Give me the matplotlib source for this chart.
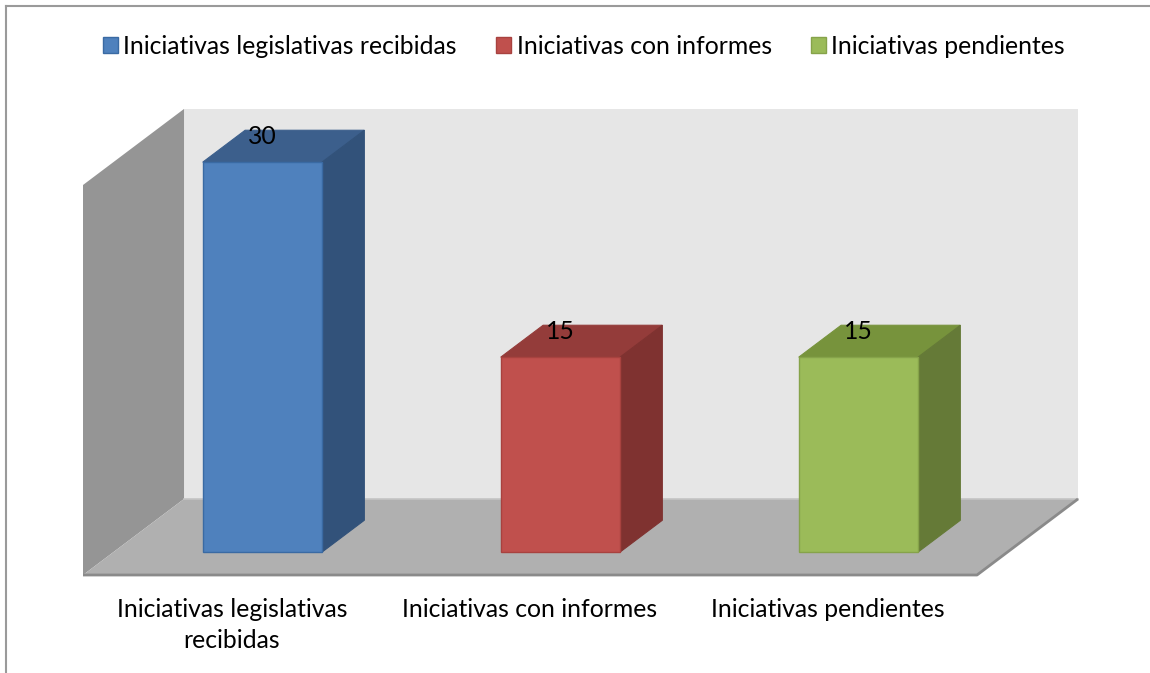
import matplotlib.pyplot as plt
from matplotlib.patches import Polygon, Patch
from matplotlib.lines import Line2D

plt.rcParams['font.family'] = ['Lato', 'DejaVu Sans']

# datos
categorias = ['Iniciativas legislativas recibidas', 'Iniciativas con informes', 'Iniciativas pendientes']
etiquetas = ['Iniciativas legislativas\nrecibidas', 'Iniciativas con informes', 'Iniciativas pendientes']
valores = [30, 15, 15]
ymax = 30

col_frente = ['#4f81bd', '#c0504d', '#9bbb59']
col_arriba = ['#3c5f8c', '#943c3a', '#77933c']
col_lado = ['#32527a', '#7f3230', '#657a37']
col_borde = ['#3a6aa3', '#a8423f', '#86a34a']

# "3d" depth offset in data units
DX = 0.339
DY = 5.85
z0, z1 = 0.30, 0.72
ancho = 0.4
fs = 17.8


def proj(x, y, z):
    return (x + z * DX, y + z * DY)


fig = plt.figure(figsize=(11.5, 6.73), dpi=100)
ax = fig.add_axes([0, 0, 1, 1])
ax.set_xlim(-232 / 298, 918 / 298)
ax.set_ylim(-98 / 13, 575 / 13)
ax.axis('off')

n = len(valores)
xa, xb = -0.5, n - 0.5

# walls and floor
pared = [proj(xa, 0, 1), proj(xb, 0, 1), proj(xb, ymax, 1), proj(xa, ymax, 1)]
ax.add_patch(Polygon(pared, closed=True, fc='#e6e6e6', ec='none', zorder=1))
izq = [proj(xa, 0, 0), proj(xa, 0, 1), proj(xa, ymax, 1), proj(xa, ymax, 0)]
ax.add_patch(Polygon(izq, closed=True, fc='#959595', ec='none', zorder=1))
piso = [proj(xa, 0, 0), proj(xb, 0, 0), proj(xb, 0, 1), proj(xa, 0, 1)]
ax.add_patch(Polygon(piso, closed=True, fc='#b0b0b0', ec='none', zorder=2))
p1, p2, p3 = proj(xa, 0, 0), proj(xb, 0, 0), proj(xb, 0, 1)
ax.plot([p1[0], p2[0], p3[0]], [p1[1], p2[1], p3[1]], color='#8a8a8a', lw=2, zorder=3,
        solid_capstyle='butt')
q1, q2 = proj(xa, 0, 1), proj(xb, 0, 1)
ax.plot([q1[0], q2[0]], [q1[1], q2[1]], color='#c4c4c4', lw=1.2, zorder=2)

# bars
for i, v in enumerate(valores):
    xc, yb = proj(i, 0, z0)
    ax.bar(xc, v, width=ancho, bottom=yb, color=col_frente[i], edgecolor=col_borde[i],
           linewidth=1, zorder=5)
    x0, x1 = i - ancho / 2, i + ancho / 2
    arriba = [proj(x0, v, z0), proj(x1, v, z0), proj(x1, v, z1), proj(x0, v, z1)]
    ax.add_patch(Polygon(arriba, closed=True, fc=col_arriba[i], ec=col_arriba[i], lw=0.8, zorder=4))
    lado = [proj(x1, 0, z0), proj(x1, 0, z1), proj(x1, v, z1), proj(x1, v, z0)]
    ax.add_patch(Polygon(lado, closed=True, fc=col_lado[i], ec=col_lado[i], lw=0.8, zorder=4))
    ax.text(xc, v + yb + 2.0, str(v), ha='center', va='center', fontsize=fs, color='black', zorder=6)
    ax.text(i, -1.8, etiquetas[i], ha='center', va='top', fontsize=fs, linespacing=1.42,
            color='black')

# legend
handles = [Patch(facecolor=col_frente[i], edgecolor=col_borde[i], linewidth=1) for i in range(n)]
fig.legend(handles, categorias, loc='center', bbox_to_anchor=(584 / 1150, 1 - 46 / 673),
           ncol=3, frameon=False, fontsize=fs, handlelength=0.6, handleheight=0.6,
           handletextpad=0.22, columnspacing=1.6)

# chart border (top and left visible)
fig.add_artist(Line2D([6 / 1150, 6 / 1150], [0, 1 - 6 / 673], color='#9a9a9a', lw=1.5))
fig.add_artist(Line2D([6 / 1150, 1], [1 - 6 / 673, 1 - 6 / 673], color='#9a9a9a', lw=1.5))

fig.savefig('out.png', dpi=100)
